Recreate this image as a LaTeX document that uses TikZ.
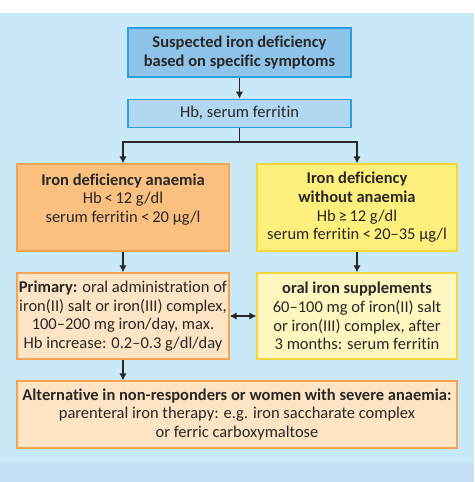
\documentclass[tikz,border=0pt]{standalone}
\usepackage{fontspec}
\setmainfont{Carlito}[Ligatures=NoCommon]
\usetikzlibrary{arrows.meta,positioning}

\definecolor{bgblue}{RGB}{201,232,248}
\definecolor{bandblue}{RGB}{196,222,243}
\definecolor{lineblue}{RGB}{46,159,222}
\definecolor{fillblueA}{RGB}{142,195,234}
\definecolor{fillblueB}{RGB}{178,215,241}
\definecolor{lineorange}{RGB}{242,164,84}
\definecolor{fillorangeA}{RGB}{251,191,128}
\definecolor{fillorangeB}{RGB}{253,228,196}
\definecolor{lineyellow}{RGB}{244,214,60}
\definecolor{fillyellowA}{RGB}{255,239,125}
\definecolor{fillyellowB}{RGB}{255,246,192}
\definecolor{inkgray}{RGB}{40,40,40}

\begin{document}
\begin{tikzpicture}[x=1pt,y=-1pt,
		box/.style={draw,line width=1.3pt,align=center,inner sep=1pt,text=inkgray,
			font=\fontsize{16.5}{18.6}\selectfont},
		bluebox/.style={box,draw=lineblue},
		orangebox/.style={box,draw=lineorange},
		yellowbox/.style={box,draw=lineyellow},
		arr/.style={-{Latex[length=7pt,width=7.5pt]},line width=1.4pt,draw=inkgray},
		dblarr/.style={{Latex[length=7pt,width=7.5pt]}-{Latex[length=7pt,width=7.5pt]},line width=1.4pt,draw=inkgray}
		]
		
		% --- frame and background
		\useasboundingbox (0,0) rectangle (474,482);
		\fill[bgblue] (0,13) rectangle (474,482);
		\fill[bandblue] (0,463) rectangle (474,482);
		
		% --- diagnosis
		\node[bluebox,fill=fillblueA,minimum width=223,minimum height=49] (susp) at (239.5,52.5)
		{\bfseries Suspected iron deficiency\\ \bfseries based on specific symptoms};
		\node[bluebox,fill=fillblueB,minimum width=223,minimum height=28,below=21pt of susp] (hb)
		{Hb, serum ferritin};
		
		\node[orangebox,fill=fillorangeA,minimum width=212,minimum height=87] (ida) at (123,207.5)
		{\bfseries Iron deficiency anaemia\\ Hb\,<\,12 g/dl\\ serum ferritin <\,20 µg/l\\ \mbox{}};
		\node[yellowbox,fill=fillyellowA,minimum width=200,minimum height=87] (idwa) at (357,207.5)
		{\bfseries Iron deficiency\\ \bfseries without anaemia\\ Hb\,≥\,12 g/dl\\ serum ferritin <\,20–35 µg/l};
		
		% --- therapy
		\node[orangebox,fill=fillorangeB,minimum width=212,minimum height=86] (prim) at (123,316)
		{\textbf{Primary:} oral administration of\\ iron(II) salt or iron(III) complex,\\
			100–200 mg iron/day, max.\\ Hb increase: 0.2–0.3 g/dl/day};
		\node[yellowbox,fill=fillyellowB,minimum width=200,minimum height=86] (oral) at (357,316)
		{\bfseries oral iron supplements\\ 60–100 mg of iron(II) salt\\
			or iron(III) complex, after\\ 3 months: serum ferritin};
		
		\node[orangebox,fill=fillorangeB,minimum width=440,minimum height=67] (alt) at (237,414.5)
		{\bfseries Alternative in non-responders or women with severe anaemia:\\
			parenteral iron therapy: e.g. iron saccharate complex\\ or ferric carboxymaltose};
		
		% --- connectors
		\coordinate (split) at (239.5,142);
		\draw[arr] (susp) -- (hb);
		\draw[line width=1.4pt,draw=inkgray] (hb) -- (split);
		\draw[arr] (split) -| (ida.north);
		\draw[arr] (split) -| (idwa.north);
		\draw[arr] (ida) -- (prim);
		\draw[arr] (idwa) -- (oral);
		\draw[dblarr] (prim) -- (oral);
		\draw[arr] (prim.south) -- (prim.south |- alt.north);
		
	\end{tikzpicture}
\end{document}
